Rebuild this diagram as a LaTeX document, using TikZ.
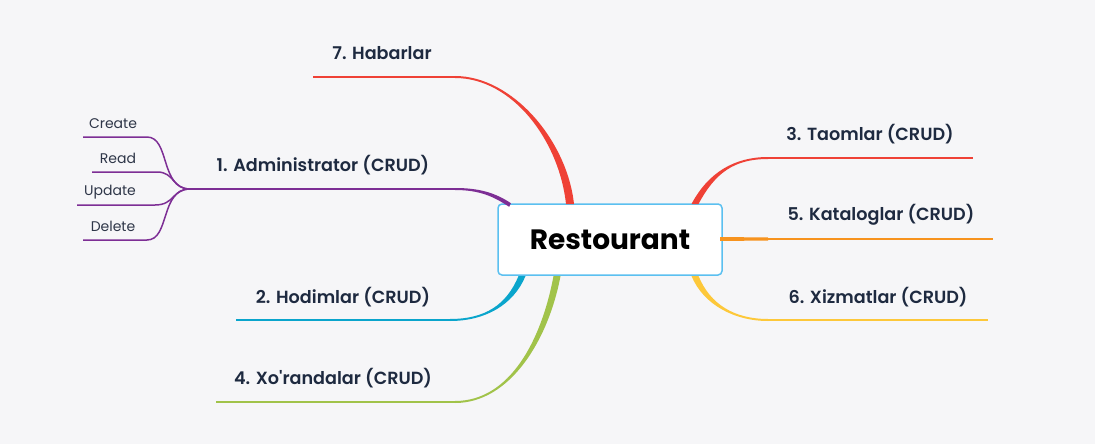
\documentclass[tikz,border=0pt]{standalone}
\usepackage{fontspec}
\setmainfont{Poppins}[Ligatures=TeXOff]
\newfontfamily\labfont{Poppins SemiBold}[Ligatures=TeXOff]
\usetikzlibrary{calc}
\definecolor{bg}{HTML}{F6F6F8}
\definecolor{cred}{HTML}{EF4136}
\definecolor{cpurple}{HTML}{7D2E95}
\definecolor{ccyan}{HTML}{0AA5CC}
\definecolor{cgreen}{HTML}{A1C34A}
\definecolor{corange}{HTML}{F7931E}
\definecolor{cyellow}{HTML}{FDC83A}
\definecolor{cborder}{HTML}{5BC0F0}
\definecolor{navy}{HTML}{1E2A40}
\definecolor{subgray}{HTML}{2E3648}
\newcommand\taper[7]{%
  \fill[#1] ($(#2)+(#6)$) .. controls ($(#3)+(#6)$) and ($(#4)+(#7)$) .. ($(#5)+(#7)$)
    -- ($(#5)-(#7)$) .. controls ($(#4)-(#7)$) and ($(#3)-(#6)$) .. ($(#2)-(#6)$) -- cycle;}
\tikzset{
  lab/.style={font=\labfont\fontsize{17.6}{20}\selectfont, text=navy, inner sep=0pt},
  sublab/.style={font=\fontsize{14}{16}\selectfont, text=subgray, inner sep=0pt},
  thin/.style={line width=2pt},
  subline/.style={line width=1.5pt, cpurple},
}
\begin{document}
\begin{tikzpicture}[x=1pt,y=-1pt]
\fill[bg] (0,0) rectangle (1095,444);
\useasboundingbox (0,0) rectangle (1095,444);

\node[draw=cborder, line width=1.5pt, rounded corners=4pt, fill=white,
      minimum width=224pt, minimum height=71pt, inner sep=0pt,
      font=\bfseries\fontsize{28}{32}\selectfont] (root) at (610,239.5) {Restourant};

% named points
\coordinate (s7) at (570,204);  \coordinate (e7) at (455,77);   \coordinate (f7) at (313,77);
\coordinate (s1) at (510,205);  \coordinate (e1) at (455,189);  \coordinate (f1) at (190,189);
\coordinate (s2) at (522,276);  \coordinate (e2) at (450,320);  \coordinate (f2) at (236,320);
\coordinate (s4) at (557,276);  \coordinate (e4) at (455,402);  \coordinate (f4) at (216,402);
\coordinate (s3) at (695,204);  \coordinate (e3) at (768,158);  \coordinate (f3) at (973,158);
\coordinate (s5) at (720,239);  \coordinate (e5) at (768,239);  \coordinate (f5) at (993,239);
\coordinate (s6) at (695,276);  \coordinate (e6) at (768,320);  \coordinate (f6) at (988,320);

% 7 Habarlar
\taper{cred}{s7}{563,140}{512,77}{e7}{4,0}{0,-1}
\draw[thin, cred] (e7) -- (f7);
% 1 Administrator
\taper{cpurple}{s1}{495,195}{480,189}{e1}{0.9,-1.8}{0,-1}
\draw[thin, cpurple] (e1) -- (f1);
% 2 Hodimlar
\taper{ccyan}{s2}{510,305}{485,320}{e2}{3.5,0}{0,1}
\draw[thin, ccyan] (e2) -- (f2);
% 4 Xo'randalar
\taper{cgreen}{s4}{545,340}{510,402}{e4}{3.5,0}{0,1}
\draw[thin, cgreen] (e4) -- (f4);
% 3 Taomlar
\taper{cred}{s3}{712,172}{735,158}{e3}{-3.5,0}{0,-1}
\draw[thin, cred] (e3) -- (f3);
% 5 Kataloglar
\fill[corange] ($(s5)+(0,-2)$) -- ($(e5)+(0,-1.5)$) -- ($(e5)+(0,1.5)$) -- ($(s5)+(0,2)$) -- cycle;
\draw[thin, corange] (e5) -- (f5);
% 6 Xizmatlar
\taper{cyellow}{s6}{707,305}{735,320}{e6}{3.5,0}{0,-1}
\draw[thin, cyellow] (e6) -- (f6);

% sub-branches of Administrator
\coordinate (c1) at (147,137); \coordinate (d1) at (83,137);
\coordinate (c2) at (157,172); \coordinate (d2) at (92,172);
\coordinate (c3) at (155,205); \coordinate (d3) at (77,205);
\coordinate (c4) at (147,240); \coordinate (d4) at (83,240);
\draw[subline] (f1) .. controls (160,189) and (170,137) .. (c1) -- (d1);
\draw[subline] (f1) .. controls (172,189) and (175,172) .. (c2) -- (d2);
\draw[subline] (f1) .. controls (172,189) and (175,205) .. (c3) -- (d3);
\draw[subline] (f1) .. controls (160,189) and (170,240) .. (c4) -- (d4);

% labels
\node[lab] (l7) at (382,53) {7. Habarlar};
\node[lab] (l1) at (323,165) {1. Administrator (CRUD)};
\node[lab] (l2) at (343,297) {2. Hodimlar (CRUD)};
\node[lab] (l4) at (333,378) {4. Xo'randalar (CRUD)};
\node[lab] (l3) at (870,134) {3. Taomlar (CRUD)};
\node[lab] (l5) at (881,215) {5. Kataloglar (CRUD)};
\node[lab] (l6) at (878,297) {6. Xizmatlar (CRUD)};
\node[sublab] (t1) at (113,124) {Create};
\node[sublab] (t2) at (118,158) {Read};
\node[sublab] (t3) at (110,192) {Update};
\node[sublab] (t4) at (113,226) {Delete};
\end{tikzpicture}
\end{document}
